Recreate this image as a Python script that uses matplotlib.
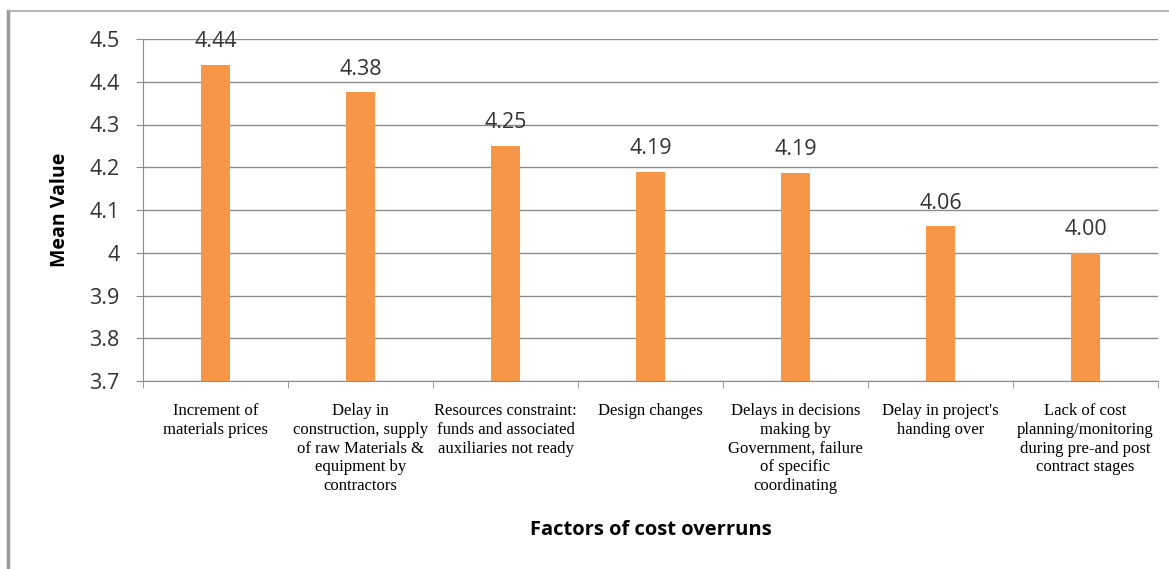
import matplotlib.pyplot as plt
from matplotlib.lines import Line2D
import numpy as np

categories = [
    'Increment of\nmaterials prices',
    'Delay in\nconstruction, supply\nof raw Materials &\nequipment by\ncontractors',
    'Resources constraint:\nfunds and associated\nauxiliaries not ready',
    'Design changes',
    'Delays in decisions\nmaking by\nGovernment, failure\nof specific\ncoordinating',
    "Delay in project's\nhanding over",
    'Lack of cost\nplanning/monitoring\nduring pre-and post\ncontract stages',
]
mean_values = [4.44, 4.375, 4.25, 4.19, 4.1875, 4.0625, 4.00]
value_labels = ['4.44', '4.38', '4.25', '4.19', '4.19', '4.06', '4.00']
y_ticks = [3.7, 3.8, 3.9, 4.0, 4.1, 4.2, 4.3, 4.4, 4.5]
y_tick_labels = ['3.7', '3.8', '3.9', '4', '4.1', '4.2', '4.3', '4.4', '4.5']

W, H = 1169, 569
fig = plt.figure(figsize=(W / 100, H / 100), dpi=100)
ax = fig.add_axes([143 / W, 1 - 381 / H, (1158 - 143) / W, (381 - 39) / H])

x = np.arange(len(categories))
ax.bar(x, mean_values, width=0.2, color='#f79646', zorder=3)
for xi, v, lab in zip(x, mean_values, value_labels):
    ax.annotate(lab, (xi, v), xytext=(0, 9), textcoords='offset points',
                ha='center', va='bottom', fontsize=15.5,
                family='Open Sans', color='#333333')

ax.set_xlim(-0.5, len(categories) - 0.5)
ax.set_ylim(3.7, 4.5)
ax.set_yticks(y_ticks)
ax.set_yticklabels(y_tick_labels, family='Open Sans', fontsize=15.5, color='#333333')
ax.yaxis.grid(True, color='#8c8c8c', linewidth=1.0, zorder=0)
ax.set_axisbelow(True)

ax.set_xticks(x)
ax.set_xticklabels(categories, family='Liberation Serif', fontsize=12,
                   va='top', ha='center', linespacing=1.22)
ax.tick_params(axis='x', which='major', length=0, pad=16)
ax.set_xticks(np.arange(len(categories) + 1) - 0.5, minor=True)
ax.tick_params(axis='x', which='minor', length=5, color='#8c8c8c')
ax.tick_params(axis='y', length=5, color='#8c8c8c', pad=12)

for s in ['top', 'right']:
    ax.spines[s].set_visible(False)
for s in ['left', 'bottom']:
    ax.spines[s].set_color('#8c8c8c')

ax.set_ylabel('Mean Value', fontsize=14, fontweight='bold', family='Open Sans',
              labelpad=14)
fig.text((143 + 1158) / 2 / W, 1 - 530 / H, 'Factors of cost overruns',
         ha='center', va='center', fontsize=14.5, fontweight='bold', family='Open Sans')

# outer frame
fig.add_artist(Line2D([8 / W, 8 / W], [0, 1 - 11 / H], transform=fig.transFigure,
                      color='#999999', linewidth=2.5))
fig.add_artist(Line2D([8 / W, 1], [1 - 11 / H, 1 - 11 / H], transform=fig.transFigure,
                      color='#aaaaaa', linewidth=1.2))

fig.savefig('out.png', dpi=100)
